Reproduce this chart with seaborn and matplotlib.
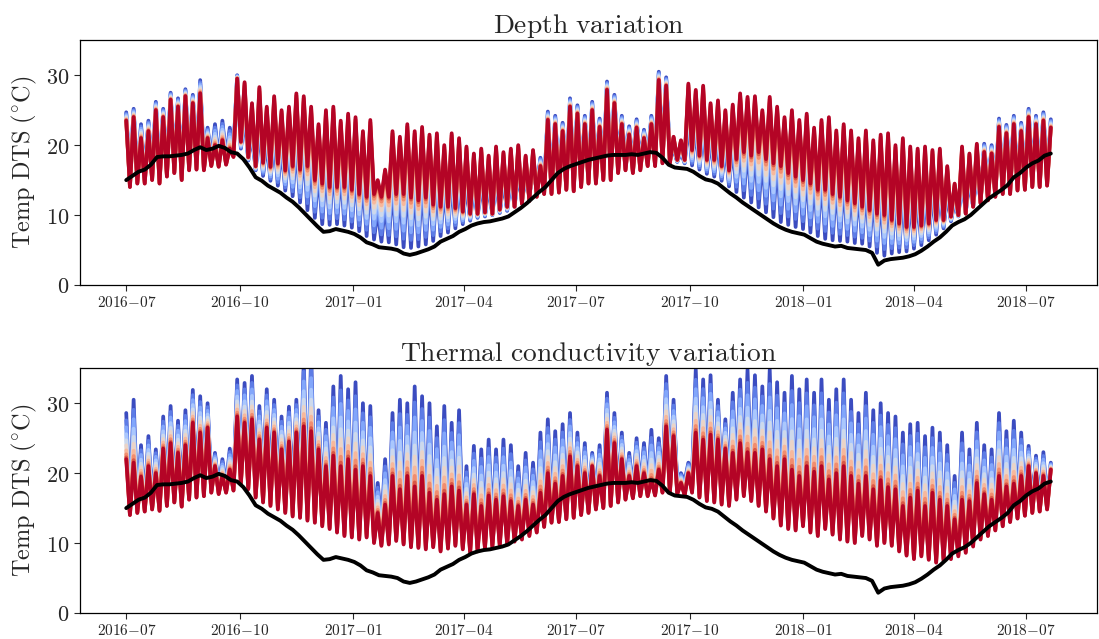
import numpy as np
import pandas as pd
import matplotlib
matplotlib.use("Agg")
import matplotlib.pyplot as plt
import matplotlib.dates as mdates
from matplotlib.ticker import FuncFormatter, FixedLocator
import seaborn as sns

# ---------------- data ----------------
# ground temperature, 5-day samples 2016-07-01 .. 2018-07-21
ground_dates = pd.date_range("2016-07-01", periods=151, freq="5D")
ground = [15.0, 15.6, 16.2, 16.5, 17.2, 18.3, 18.4, 18.4, 18.5, 18.6,
          18.8, 19.3, 19.7, 19.3, 19.5, 19.9, 19.6, 19.0, 18.8, 18.0,
          16.8, 15.4, 14.9, 14.2, 13.7, 13.2, 12.5, 11.9, 11.1, 10.2,
          9.3, 8.4, 7.6, 7.7, 8.0, 7.8, 7.6, 7.3, 6.8, 6.1,
          5.8, 5.4, 5.3, 5.2, 5.0, 4.5, 4.3, 4.5, 4.8, 5.1,
          5.5, 6.2, 6.6, 7.0, 7.6, 8.0, 8.5, 8.8, 9.0, 9.1,
          9.3, 9.5, 9.8, 10.4, 11.0, 11.7, 12.5, 13.3, 14.0, 15.0,
          16.0, 16.6, 17.0, 17.3, 17.6, 17.9, 18.1, 18.3, 18.5, 18.6,
          18.6, 18.6, 18.7, 18.6, 18.8, 19.0, 18.9, 18.2, 17.2, 16.8,
          16.7, 16.6, 16.2, 15.6, 15.1, 14.9, 14.5, 13.8, 13.1, 12.5,
          11.8, 11.2, 10.6, 10.0, 9.4, 8.8, 8.3, 7.9, 7.6, 7.4,
          7.2, 6.7, 6.2, 5.9, 5.7, 5.5, 5.6, 5.3, 5.2, 5.1,
          5.0, 4.6, 2.9, 3.5, 3.7, 3.8, 3.9, 4.1, 4.4, 4.9,
          5.5, 6.2, 6.8, 7.6, 8.5, 9.0, 9.4, 10.0, 10.8, 11.6,
          12.4, 13.0, 13.6, 14.3, 15.4, 16.0, 16.8, 17.4, 17.8, 18.5,
          18.8]

# cable temperatures: daily-cycle peaks (every 6 days from 2016-07-01)
# and troughs (3 days after each peak)
peak_dates = pd.date_range("2016-07-01", periods=126, freq="6D")
trough_dates = peak_dates[:-1] + pd.Timedelta(days=3)

# ---- Depth variation ----
depth_red_peaks = [23.5, 24, 21, 22, 25, 24, 26.5, 25.5, 27, 26,
                   27.4, 21, 20, 20.7, 19.5, 29.5, 29, 26, 28.3, 25.5,
                   27, 25, 25.5, 27.4, 27, 25.5, 23, 25, 25.5, 23.5,
                   24.5, 24, 22, 23.6, 15, 16.5, 22, 21.2, 23, 22,
                   22.6, 21.5, 21.7, 20, 21.7, 21, 19.8, 18.8, 19.5, 18.5,
                   19.8, 19, 19.5, 20, 18.5, 19.3, 17, 23.6, 23, 22,
                   25.5, 24.5, 23, 25, 22.6, 27.9, 26, 23, 21.5, 22.5,
                   21, 23, 29.3, 28.5, 21.2, 20.7, 28.8, 27.9, 28.5, 26,
                   26.4, 25, 25.8, 27.4, 26.9, 27, 25, 26.9, 25.5, 24,
                   25, 23.6, 24.5, 22.5, 23.6, 24, 22.1, 23, 22.1, 21,
                   22.1, 20.7, 21.5, 21.7, 20, 21, 19.8, 19.5, 19.8, 19.3,
                   19.5, 17, 14.5, 19.8, 18.8, 20.2, 19, 18.8, 22.6, 21.7,
                   23, 22, 24, 23, 23.5, 22.5]
depth_red_troughs = [14, 14.5, 14.5, 15, 14.5, 15.5, 16, 15, 16.4, 16.5,
                     16.4, 17, 16.9, 17.2, 18.3, 20.5, 18.3, 17, 17.5, 16.9,
                     17.4, 16.4, 17, 16.5, 17, 15, 14.5, 14, 14, 14,
                     13.6, 13, 12.6, 13, 12.6, 12.6, 13, 13, 12.5, 12.1,
                     12.5, 11.5, 11.2, 11.2, 11, 10.5, 10.2, 10.2, 10.4, 10.2,
                     10.8, 11.2, 11.2, 11.6, 12, 12.6, 13, 13, 13.2, 13.6,
                     13.4, 14, 14.5, 14.5, 15, 15, 16, 16.4, 16, 16.4,
                     17, 17, 17.4, 17.4, 17.9, 17.9, 19.3, 18.5, 17.9, 17.9,
                     17, 16.4, 18, 19, 18.5, 19, 18, 17.4, 17, 16,
                     15.5, 15, 14.5, 13.6, 13.6, 13, 12.6, 12.1, 11.7, 11.2,
                     10.7, 10.2, 10, 9.3, 8.8, 8.3, 8.3, 8.5, 8.8, 9.3,
                     9.3, 9.8, 10, 10.2, 11.2, 11.7, 12.1, 12.6, 13, 13,
                     13.5, 13.6, 14, 14, 14.2]
depth_blue_peaks = [24.7, 25.2, 23, 23.5, 26.2, 25.2, 27.5, 26.7, 28, 27.2,
                    29.3, 22.5, 23, 23.5, 22.5, 30, 24.0, 21.6, 22.4, 20.5,
                    21.0, 19.6, 19.6, 20.2, 19.6, 18.2, 16.3, 17.2, 17.6, 16.4,
                    16.9, 16.4, 15.0, 15.6, 10.7, 11.5, 14.4, 13.8, 14.6, 14.1,
                    14.6, 14.2, 14.5, 13.9, 15.0, 15.0, 14.5, 14.2, 14.7, 14.3,
                    15.1, 14.8, 15.2, 15.9, 15.4, 16.2, 18.2, 24.8, 24.2, 23.2,
                    26.7, 25.7, 24.2, 26.2, 23.8, 29.1, 27.2, 24.2, 22.7, 23.7,
                    22.2, 24.2, 30.5, 29.7, 19.3, 18.9, 23.3, 22.5, 22.6, 21.0,
                    21.0, 19.9, 20.0, 20.5, 19.9, 19.6, 18.2, 18.9, 17.9, 16.8,
                    17.2, 16.3, 16.6, 15.3, 15.6, 15.8, 14.6, 15.1, 14.5, 13.8,
                    14.4, 13.3, 13.3, 13.6, 12.7, 13.3, 12.7, 12.8, 13.2, 13.3,
                    13.8, 12.9, 11.9, 15.0, 14.8, 16.0, 20.2, 20, 23.8, 22.9,
                    24.2, 23.2, 25.2, 24.2, 24.7, 23.7]
depth_blue_troughs = [15, 15.5, 15.5, 16, 15.5, 16.5, 17, 16, 17.4, 17.5,
                      17.4, 18, 17.9, 18.2, 19.3, 19.5, 17.8, 16.4, 15.6, 14.9,
                      14.2, 13.5, 12.7, 11.8, 10.7, 9.6, 8.7, 8.6, 8.7, 8.5,
                      8.2, 7.7, 7.0, 6.5, 6.2, 6.1, 5.8, 5.4, 5.3, 5.5,
                      5.8, 6.3, 7.0, 7.5, 8.1, 8.7, 9.2, 9.6, 9.8, 10.0,
                      10.3, 10.6, 11.2, 12.0, 12.9, 13.8, 14, 14, 14.2, 14.6,
                      14.4, 15, 15.5, 15.5, 16, 16, 17, 17.4, 17, 17.4,
                      18, 18, 18.4, 18.4, 17.6, 17.4, 17.1, 16.5, 15.9, 15.5,
                      14.9, 14.1, 13.3, 12.5, 11.8, 11.1, 10.4, 9.7, 9.0, 8.6,
                      8.3, 8.0, 7.5, 7.0, 6.6, 6.4, 6.3, 6.2, 6.0, 5.9,
                      5.5, 4.6, 4.2, 4.5, 4.7, 4.8, 5.2, 5.7, 6.4, 7.2,
                      8.1, 9.1, 9.8, 10.4, 11.2, 12.1, 13.1, 13.6, 14, 14,
                      14.5, 14.6, 15, 15, 15.2]

# ---- Thermal conductivity variation ----
cond_red_peaks = [22, 21.5, 19.5, 21, 20, 23.5, 24.3, 22.9, 24, 27.2,
                  25.8, 26.5, 21, 19.6, 20.5, 28.1, 27.2, 27.7, 24.8, 26.5,
                  25.8, 23.4, 24.5, 25.8, 26.7, 26, 23.4, 21, 22.5, 21,
                  22, 20.5, 21, 19.6, 14.3, 15.5, 19.6, 17.7, 19.6, 18.1,
                  19.6, 17.2, 16.2, 17, 18.1, 17.5, 15.5, 17, 15.3, 16.8,
                  16.2, 16.7, 16, 15.3, 16.2, 15.5, 17.2, 20, 18.5, 19.6,
                  22.4, 21, 20, 21, 19.6, 26.2, 24.3, 22, 19.6, 21,
                  20, 19, 20.5, 26.7, 25.3, 18.6, 20, 25.8, 24.8, 25.5,
                  24.8, 23.5, 22.9, 24.3, 23, 22.9, 23.4, 22, 21, 22,
                  20.5, 19.6, 21, 20.2, 21, 19.1, 20, 21, 19.6, 18.5,
                  19.6, 17.7, 19, 18, 17.7, 15.3, 16.5, 17.5, 15.3, 17.2,
                  16.2, 15.3, 13.4, 16.2, 16, 18.6, 17, 16.2, 19.6, 18.1,
                  18.5, 19.6, 21, 20, 19.6, 20.5]
cond_red_troughs = [14, 14.3, 14.5, 14.8, 14.6, 15.3, 15.8, 15.2, 16.2, 16.5,
                    16.7, 17.2, 17, 17.2, 17.5, 18.5, 17.7, 16.5, 15.8, 15.3,
                    14.8, 14.3, 13.8, 13.6, 13.2, 12.9, 12.4, 12, 11.5, 11,
                    10.8, 10.5, 10.8, 10, 9.6, 9.8, 10.3, 9.8, 9.4, 9.3,
                    9.1, 9.4, 8.8, 9.2, 9.6, 9.1, 8.6, 8.8, 9.2, 9.4,
                    9.6, 9.8, 10.2, 10.5, 11, 11.5, 12.3, 12.9, 13, 13.4,
                    13.6, 14, 14.3, 14.8, 15, 15.3, 15.8, 16.2, 16.4, 16.7,
                    16.7, 16.8, 17.2, 17.2, 17, 16.8, 17.2, 16.5, 16, 15.8,
                    15.5, 15.3, 16.2, 16.7, 16, 15.3, 14.5, 13.5, 12.5, 12,
                    11.8, 12.4, 11.5, 11, 12, 11.2, 10.5, 10.2, 10, 11,
                    10.5, 9.6, 10, 9.6, 8.8, 8.2, 7.7, 8.1, 7.6, 7.2,
                    7.5, 7.7, 8.1, 8.6, 9.5, 10.5, 11, 11.8, 12.4, 13,
                    13.5, 13.9, 14.3, 14.5, 14.8]
cond_blue_peaks = [28.6, 30.5, 24, 25.3, 23.4, 28.1, 29.6, 27.5, 29, 31.9,
                   31, 30, 22.9, 22, 23.5, 33.4, 32.9, 33.9, 29.6, 32,
                   30.5, 28.1, 29.5, 30.5, 36, 37, 29, 27.2, 32.4, 33.9,
                   32, 33, 30, 29.6, 18.6, 22, 28.6, 30.5, 30, 32.4,
                   31, 30, 26.7, 29.6, 27.2, 29, 21, 23.9, 23.4, 24.8,
                   23.4, 24.8, 24, 21, 22.9, 21.5, 25.8, 27.7, 26, 27,
                   28.6, 25.8, 24.3, 22.9, 24, 31.5, 28.6, 25.8, 22.9, 25,
                   24.3, 26.2, 25, 33.9, 30.5, 20, 21.5, 34.8, 33.4, 34,
                   30.5, 27.7, 31.5, 33.4, 34.8, 34, 32.4, 34.8, 33, 31.5,
                   33.9, 32, 33.4, 31.5, 33.4, 30.5, 32, 33.4, 30.5, 28.6,
                   31.5, 29, 30, 28.6, 28.1, 25.8, 27, 27.2, 25.3, 26.5,
                   25.8, 24, 19.6, 25.8, 23.4, 27.2, 24, 23.4, 28.6, 26,
                   27.5, 25.8, 23.9, 22.5, 23, 21.5]
cond_blue_troughs = [15, 15.3, 15.5, 15.8, 15.6, 16.3, 16.8, 16.2, 17.2, 17.5,
                     17.7, 18.2, 18, 18.2, 18.5, 19.5, 19.7, 19, 18.6, 18.3,
                     17.8, 17.3, 16.8, 16.6, 16.2, 15.9, 15.4, 15, 14.5, 14,
                     13.8, 13.5, 13.8, 13, 12.6, 12.8, 13.3, 12.8, 12.4, 12.3,
                     12.1, 12.4, 11.8, 12.2, 12.6, 12.1, 11.6, 11.8, 12.2, 12.4,
                     12.6, 12.8, 13, 13.2, 13.5, 13.5, 13.8, 14.2, 14.2, 14.6,
                     14.8, 15.2, 15.4, 15.8, 16, 16.3, 16.8, 17.2, 17.4, 17.7,
                     17.7, 17.8, 18.2, 18.2, 18.2, 18.8, 19.5, 19, 18.8, 18.7,
                     18.5, 18.3, 19.2, 19.7, 19, 18.3, 17.5, 16.5, 15.5, 15,
                     14.8, 15.4, 14.5, 14, 15, 14.2, 13.5, 13.2, 13, 14,
                     13.5, 12.6, 13, 12.6, 11.8, 11.2, 10.7, 11.1, 10.6, 10.2,
                     10.5, 10.7, 11.1, 11.6, 12.5, 13, 13, 13.3, 13.8, 14.2,
                     14.5, 14.9, 15.3, 15.5, 15.8]

# position of each of the 10 cables between the blue and the red extreme
fractions = [0.0, 0.16, 0.31, 0.46, 0.59, 0.70, 0.81, 0.895, 0.96, 1.0]
# colour of each cable along the coolwarm map
color_pos = [0.0, 0.111, 0.222, 0.333, 0.444, 0.556, 0.667, 0.778, 0.889, 1.0]

titles = ["Depth variation", "Thermal conductivity variation"]
ylabel = r"$\mathrm{Temp\ DTS\ (^{\circ}C)}$"
yticks = [0, 10, 20, 30]


def cable_series(peaks, troughs):
    s = pd.concat([pd.Series(peaks, index=peak_dates, dtype=float),
                   pd.Series(troughs, index=trough_dates, dtype=float)]).sort_index()
    return s


def make_long(bp, bt, rp, rt):
    blue = cable_series(bp, bt)
    red = cable_series(rp, rt)
    frames = []
    for i, f in enumerate(fractions):
        frames.append(pd.DataFrame({"date": blue.index,
                                    "temp": blue.values + f * (red.values - blue.values),
                                    "cable": i}))
    return pd.concat(frames, ignore_index=True)


panels = [make_long(depth_blue_peaks, depth_blue_troughs, depth_red_peaks, depth_red_troughs),
          make_long(cond_blue_peaks, cond_blue_troughs, cond_red_peaks, cond_red_troughs)]
gdf = pd.DataFrame({"date": ground_dates, "temp": ground})

# ---------------- style ----------------
sns.set_style("ticks")
plt.rcParams["mathtext.fontset"] = "cm"
plt.rcParams["font.family"] = ["DejaVu Serif"]

colors = [plt.cm.coolwarm(c) for c in color_pos]

fig = plt.figure(figsize=(10.99, 6.39), dpi=100)
ax_top = fig.add_axes([0.0728, 0.554, 0.9254, 0.383])
ax_bot = fig.add_axes([0.0728, 0.0407, 0.9254, 0.383])

for ax, df, title in zip([ax_top, ax_bot], panels, titles):
    sns.lineplot(data=df, x="date", y="temp", hue="cable", hue_order=list(range(len(fractions))),
                 palette=colors, legend=False, estimator=None, errorbar=None,
                 linewidth=2.7, ax=ax)
    sns.lineplot(data=gdf, x="date", y="temp", color="black", linewidth=2.8,
                 estimator=None, errorbar=None, ax=ax)
    ax.set_ylim(0, 35)
    ax.yaxis.set_major_locator(FixedLocator(yticks))
    ax.yaxis.set_major_formatter(FuncFormatter(lambda v, p: r"$\mathrm{%d}$" % v))
    ax.xaxis.set_major_locator(mdates.MonthLocator(bymonth=[1, 4, 7, 10]))
    ax.xaxis.set_major_formatter(FuncFormatter(
        lambda v, p: r"$\mathrm{%d{-}%02d}$" % (mdates.num2date(v).year, mdates.num2date(v).month)))
    ax.tick_params(axis="y", labelsize=16, length=4, width=0.8, direction="out")
    ax.tick_params(axis="x", labelsize=11, length=4, width=0.8, direction="out")
    ax.set_xlabel("")
    ax.set_ylabel(ylabel, fontsize=17.5, labelpad=5)
    ax.set_title(r"$\mathrm{%s}$" % title.replace(" ", r"\ "), fontsize=19.8, pad=5)
    for s in ax.spines.values():
        s.set_visible(True)
        s.set_linewidth(0.9)
        s.set_color("black")

fig.savefig("out.png", dpi=100)
